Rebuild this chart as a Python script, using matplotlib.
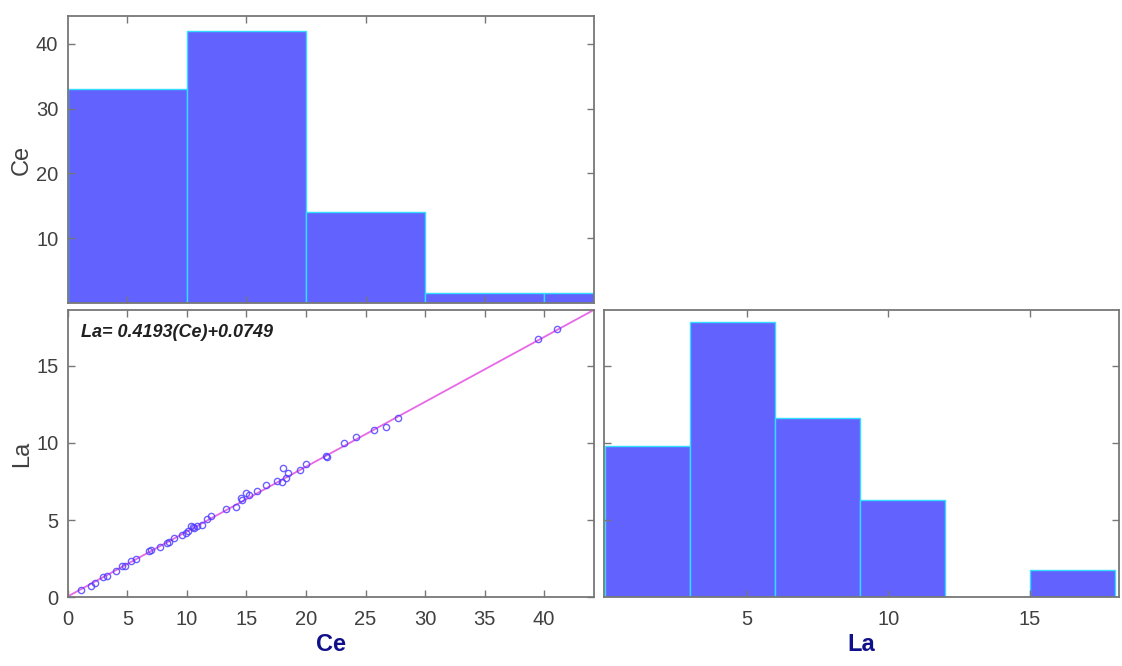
import numpy as np
import matplotlib.pyplot as plt

plt.rcParams['font.family'] = ['Liberation Sans', 'DejaVu Sans']

# scatter data
ce = [1.1, 1.9, 2.3, 2.9, 3.3, 4.0, 4.5, 4.8, 5.3, 5.7, 6.8, 7.0, 7.7, 8.3, 8.5,
      8.9, 9.6, 9.9, 10.1, 10.3, 10.5, 10.6, 10.8, 11.3, 11.7, 12.0, 13.3, 14.1,
      14.5, 14.6, 15.0, 15.2, 15.9, 16.6, 17.6, 18.0, 18.1, 18.3, 18.5, 19.5,
      20.0, 21.7, 21.8, 23.2, 24.2, 25.7, 26.7, 27.7, 39.5, 41.1]
la = [0.48, 0.76, 0.95, 1.30, 1.39, 1.69, 2.01, 2.03, 2.34, 2.47, 3.03, 3.07,
      3.29, 3.51, 3.57, 3.85, 4.05, 4.18, 4.33, 4.63, 4.55, 4.50, 4.63, 4.70,
      5.06, 5.24, 5.71, 5.84, 6.43, 6.28, 6.77, 6.62, 6.90, 7.29, 7.51, 7.47,
      8.35, 7.71, 8.05, 8.25, 8.61, 9.18, 9.09, 10.02, 10.39, 10.82, 11.0,
      11.58, 16.71, 17.36]
slope, intercept = 0.4193, 0.0749

# histogram bars as drawn
ce_edges = [0, 10, 20, 30, 40, 44.2]
ce_counts = [33, 42, 14, 1.5, 1.5]
la_edges = [0, 3, 6, 9, 12, 15, 18]
la_counts = [9.8, 17.8, 11.6, 6.3, 0, 1.75]

xmax, ymax = 44.2, 18.6
bar_face = '#6262ff'
bar_edge = '#33ddff'
spine_c = '#777777'
tick_c = '#404040'
navy = '#10108a'


def style(ax):
    for s in ax.spines.values():
        s.set_color(spine_c)
        s.set_linewidth(1.3)
    ax.tick_params(direction='in', length=5, width=1, colors=spine_c,
                   labelcolor=tick_c, labelsize=14.5, top=True, right=True)
    ax.tick_params(axis='x', pad=9)
    ax.tick_params(axis='y', pad=7)


fig = plt.figure(figsize=(11.22, 6.66), dpi=100)
ax_top = fig.add_axes([0.0606, 0.545, 0.4688, 0.431])
ax_sc = fig.add_axes([0.0606, 0.1029, 0.4688, 0.4317])
ax_rh = fig.add_axes([0.5383, 0.1029, 0.459, 0.4317])

# top histogram (Ce)
ax_top.bar(ce_edges[:-1], ce_counts, width=np.diff(ce_edges), align='edge',
           color=bar_face, edgecolor=bar_edge, linewidth=1)
ax_top.set_xlim(0, xmax)
ax_top.set_ylim(0, 44.3)
ax_top.set_xticks([5, 15, 25, 35])
ax_top.set_xticklabels([])
ax_top.set_yticks([10, 20, 30, 40])
ax_top.set_ylabel('Ce', fontsize=17, color=tick_c, labelpad=2)
style(ax_top)

# scatter with fit line
xs = np.array([0, xmax])
ax_sc.plot(xs, slope * xs + intercept, color='#e868e8', lw=1.3, zorder=2)
ax_sc.plot(ce, la, 'o', mfc='none', mec='#4a3aff', mew=1, ms=4.5,
           alpha=0.8, zorder=3)
ax_sc.set_xlim(0, xmax)
ax_sc.set_ylim(0, ymax)
ax_sc.set_xticks(range(0, 45, 5))
ax_sc.set_yticks([0, 5, 10, 15])
ax_sc.set_xlabel('Ce', fontsize=17, fontweight='bold', color=navy, labelpad=3)
ax_sc.set_ylabel('La', fontsize=17, color=tick_c, labelpad=2)
ax_sc.text(0.025, 0.95, 'La= 0.4193(Ce)+0.0749', transform=ax_sc.transAxes,
           fontsize=13, fontweight='bold', fontstyle='italic', color='#202020',
           va='top', ha='left')
style(ax_sc)

# right histogram (La)
ax_rh.bar(la_edges[:-1], la_counts, width=np.diff(la_edges), align='edge',
          color=bar_face, edgecolor=bar_edge, linewidth=1)
ax_rh.set_xlim(-0.05, 18.15)
ax_rh.set_ylim(0, ymax)
ax_rh.set_xticks([5, 10, 15])
ax_rh.set_yticks([5, 10, 15])
ax_rh.set_yticklabels([])
ax_rh.set_xlabel('La', fontsize=17, fontweight='bold', color=navy, labelpad=3)
style(ax_rh)

fig.savefig('out.png', dpi=100)
